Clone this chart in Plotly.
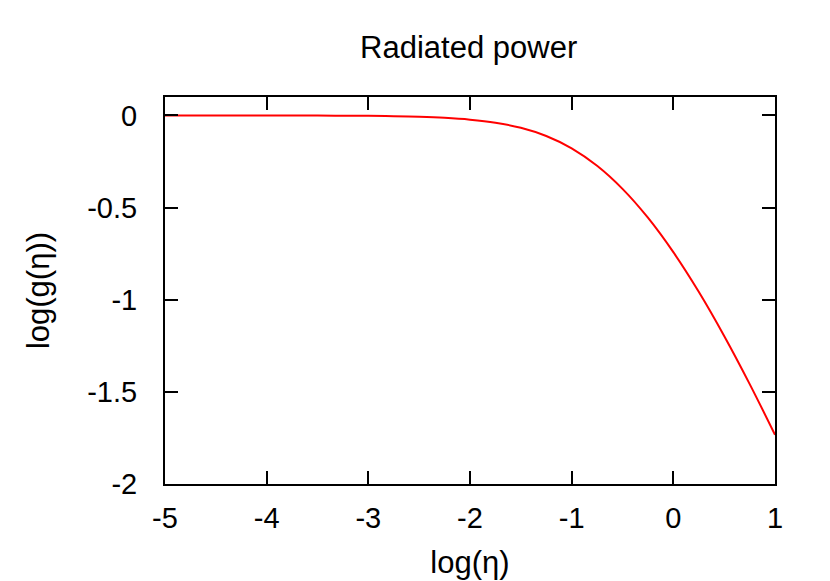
import plotly.graph_objects as go

# log10(eta) et log10(g(eta))
log_eta = [-5, -4.5, -4, -3.5, -3, -2.75, -2.5, -2.25, -2, -1.75, -1.5, -1.25,
           -1, -0.75, -0.5, -0.25, 0, 0.25, 0.5, 0.75, 1]
log_g = [0.0, -0.0001, -0.0002, -0.0008, -0.0024, -0.0042, -0.0074, -0.0130,
         -0.0228, -0.0395, -0.0673, -0.1117, -0.1786, -0.2733, -0.3986, -0.5551,
         -0.7421, -0.9572, -1.1968, -1.4566, -1.7330]

x_ticks = [-5, -4, -3, -2, -1, 0, 1]
x_labels = ["-5", "-4", "-3", "-2", "-1", "0", "1"]
y_ticks = [0, -0.5, -1, -1.5, -2]
y_labels = ["0", "-0.5", "-1", "-1.5", "-2"]

police = "Liberation Sans, Arial, sans-serif"

fig = go.Figure()
fig.add_trace(go.Scatter(x=log_eta, y=log_g, mode="lines",
                         line=dict(color="red", width=2, shape="spline"),
                         showlegend=False))

axe = dict(showline=True, linecolor="black", linewidth=2, mirror="ticks",
           ticks="inside", ticklen=13, tickwidth=2, tickcolor="black",
           showgrid=False, zeroline=False,
           tickfont=dict(family=police, size=29, color="black"))

# la page ajoute une marge de 8 px autour du graphe
fig.update_layout(
    width=830, height=581,
    paper_bgcolor="white", plot_bgcolor="white",
    margin=dict(l=157, r=63, t=89, b=105),
    title=dict(text="Radiated power", x=0.555, xanchor="center", y=0.932, yanchor="middle",
               font=dict(family=police, size=31, color="black")),
    xaxis=dict(range=[-5, 1], tickvals=x_ticks, ticktext=x_labels, ticklabelstandoff=7,
               title=dict(text="log(η)", standoff=19,
                          font=dict(family=police, size=31, color="black")), **axe),
    yaxis=dict(range=[-2, 0.1], tickvals=y_ticks, ticktext=y_labels, ticklabelstandoff=20,
               title=dict(text="log(g(η))", standoff=28,
                          font=dict(family=police, size=31, color="black")), **axe),
)

fig.write_html("out.html")
